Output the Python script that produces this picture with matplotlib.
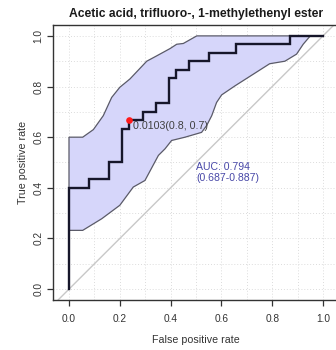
import matplotlib
matplotlib.use("Agg")
import matplotlib.pyplot as plt
import numpy as np

plt.rcParams['font.family'] = ['Liberation Sans', 'DejaVu Sans']

title = "Acetic acid, trifluoro-, 1-methylethenyl ester"
n_controls = 38
n_cases = 30

# ROC curve vertices as counts (false positives, true positives)
fp_counts = [0, 0, 3, 3, 6, 6, 8, 8, 9, 9, 11, 11, 13, 13, 15, 15, 16, 16,
             18, 18, 21, 21, 25, 25, 33, 33, 38]
tp_counts = [0, 12, 12, 13, 13, 15, 15, 19, 19, 20, 20, 21, 21, 22, 22, 25,
             25, 26, 26, 27, 27, 28, 28, 29, 29, 30, 30]

# Confidence band of the sensitivity
ci_upper_fpr = [0.0, 0.054, 0.096, 0.135, 0.168, 0.2, 0.24, 0.306, 0.345,
                0.398, 0.424, 0.45, 0.503, 1.0]
ci_upper_tpr = [0.6, 0.6, 0.63, 0.685, 0.757, 0.797, 0.83, 0.9, 0.921,
                0.95, 0.967, 0.97, 1.0, 1.0]
ci_lower_fpr = [0.0, 0.054, 0.129, 0.2, 0.253, 0.299, 0.352, 0.378, 0.404,
                0.457, 0.522, 0.542, 0.562, 0.581, 0.601, 0.654, 0.79, 0.85,
                0.896, 0.922, 0.95, 1.0]
ci_lower_tpr = [0.232, 0.232, 0.278, 0.331, 0.403, 0.429, 0.528, 0.554, 0.587,
                0.6, 0.619, 0.646, 0.685, 0.737, 0.767, 0.803, 0.89, 0.9,
                0.928, 0.967, 1.0, 1.0]

# Best threshold
best_fp, best_tp = 9, 20
best_label = "0.0103(0.8, 0.7)"
auc_text = "AUC: 0.794\n(0.687-0.887)"

ticks = [0.0, 0.2, 0.4, 0.6, 0.8, 1.0]
tick_labels = ["0.0", "0.2", "0.4", "0.6", "0.8", "1.0"]

fpr = np.array(fp_counts) / n_controls
tpr = np.array(tp_counts) / n_cases

fig = plt.figure(figsize=(3.36, 3.5), dpi=100)
ax = fig.add_axes([53 / 336, 50 / 350, 286 / 336, 275 / 350])
ax.set_xlim(-0.063, 1.063)
ax.set_ylim(-0.043, 1.043)

# dotted grid every 0.1
for g in np.arange(0, 1.01, 0.1):
    ax.axvline(g, color='#dcdcdc', lw=0.7, ls=(0, (1, 2)), zorder=0)
    ax.axhline(g, color='#dcdcdc', lw=0.7, ls=(0, (1, 2)), zorder=0)

# confidence band polygon
poly_x = list(ci_upper_fpr) + list(ci_lower_fpr[::-1])
poly_y = list(ci_upper_tpr) + list(ci_lower_tpr[::-1])
ax.fill(poly_x, poly_y, facecolor='#d6d6fa', edgecolor='#5a5a68', lw=0.9, zorder=1)

# chance diagonal
ax.axline((0, 0), (1, 1), color='#c8c8c8', lw=1.0, zorder=2)

# ROC curve
ax.plot(fpr, tpr, color='#16162a', lw=1.7, zorder=3, solid_joinstyle='miter')

# best threshold point
bx, by = best_fp / n_controls, best_tp / n_cases
ax.plot([bx], [by], 'o', color='#ff1a1a', ms=4.8, zorder=4, mec='none')
ax.annotate(best_label, (bx, by), xytext=(2.8, -4.3), textcoords='offset points',
            ha='left', va='center', fontsize=7.7, color='#404040', zorder=5)

ax.text(0.5, 0.5, auc_text, ha='left', va='top', fontsize=7.6,
        color='#4848a8', linespacing=1.12, zorder=5)

ax.set_xticks(ticks)
ax.set_xticklabels(tick_labels)
ax.set_yticks(ticks)
ax.set_yticklabels(tick_labels, rotation=90, va='center')
ax.tick_params(axis='both', length=4, width=0.9, color='#333333',
               labelsize=7.3, labelcolor='#333333')
ax.tick_params(axis='x', pad=6)
ax.tick_params(axis='y', pad=3)
for s in ax.spines.values():
    s.set_color('#333333')
    s.set_linewidth(1.0)

ax.set_xlabel("False positive rate", fontsize=7.7, color='#333333', labelpad=8)
ax.set_ylabel("True positive rate", fontsize=7.7, color='#333333', labelpad=4)
ax.set_title(title, fontsize=8.7, fontweight='bold', color='#1a1a1a', pad=6)

fig.savefig("out.png", dpi=100)
